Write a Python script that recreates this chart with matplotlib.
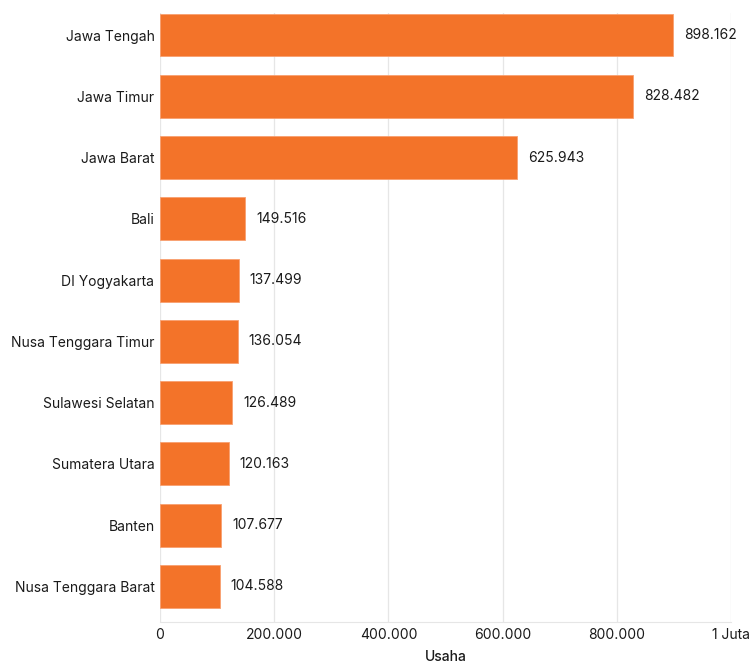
import matplotlib
matplotlib.use("Agg")
import matplotlib.pyplot as plt
from matplotlib.ticker import FuncFormatter

provinces = ["Jawa Tengah", "Jawa Timur", "Jawa Barat", "Bali", "DI Yogyakarta",
             "Nusa Tenggara Timur", "Sulawesi Selatan", "Sumatera Utara", "Banten",
             "Nusa Tenggara Barat"]
values = [898162, 828482, 625943, 149516, 137499, 136054, 126489, 120163, 107677, 104588]
xticks = [0, 200000, 400000, 600000, 800000, 1000000]

plt.rcParams['font.family'] = ['Inter', 'DejaVu Sans']

fig = plt.figure(figsize=(7.55, 6.66), dpi=100)
ax = fig.add_axes([160/755, 1-622/666, (731-160)/755, (622-13)/666])

ypos = list(range(len(provinces)))
ax.barh(ypos, values, height=0.7, color="#F37329", edgecolor="#F8A070", linewidth=0.6, zorder=3)

def fmt_num(v):
    return f"{int(v):,}".replace(",", ".")

for y, v in zip(ypos, values):
    ax.annotate(fmt_num(v), (v, y), xytext=(8, 0), textcoords="offset points",
                va="center", ha="left", fontsize=10, color="#1a1a1a")

ax.set_yticks(ypos)
ax.set_yticklabels(provinces, fontsize=10, color="#1a1a1a")
ax.set_ylim(9.58, -0.36)
ax.set_xlim(0, 1000000)
ax.set_xticks(xticks)

def xfmt(v, pos):
    if v >= 1000000:
        return "1 Juta"
    return fmt_num(v)

ax.xaxis.set_major_formatter(FuncFormatter(xfmt))
ax.tick_params(axis="x", labelsize=10, colors="#1a1a1a", length=0, pad=4)
ax.tick_params(axis="y", length=0, pad=4)
ax.grid(axis="x", color="#e6e6e6", linewidth=0.9, zorder=0)
for s in ["top", "right", "left"]:
    ax.spines[s].set_visible(False)
ax.spines["bottom"].set_color("#e6e6e6")
ax.set_xlabel("Usaha", fontsize=10, fontweight="medium", color="#1a1a1a", labelpad=6)

fig.savefig("out.png", dpi=100)
